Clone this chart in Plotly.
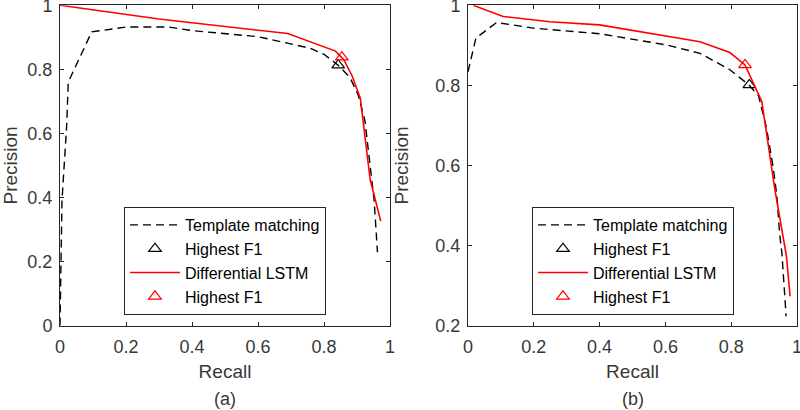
import plotly.graph_objects as go

# ---- data: panel (a) ----
tm_a_recall = [0.0, 0.006, 0.02, 0.025, 0.096, 0.2, 0.33, 0.4, 0.6, 0.687, 0.758, 0.8, 0.843, 0.879, 0.904, 0.924, 0.939, 0.952, 0.962]
tm_a_prec   = [0.0, 0.39, 0.62, 0.76, 0.917, 0.932, 0.932, 0.921, 0.902, 0.883, 0.866, 0.847, 0.813, 0.774, 0.719, 0.64, 0.516, 0.39, 0.229]
tm_a_best = ([0.843], [0.813])
ls_a_recall = [0.0, 0.3, 0.69, 0.835, 0.86, 0.885, 0.91, 0.94, 0.972]
ls_a_prec   = [1.0, 0.957, 0.912, 0.857, 0.83, 0.78, 0.71, 0.455, 0.326]
ls_a_best = ([0.854], [0.838])

# ---- data: panel (b) ----
tm_b_recall = [0.0, 0.024, 0.087, 0.198, 0.4, 0.603, 0.705, 0.796, 0.855, 0.883, 0.907, 0.927, 0.939, 0.947, 0.954, 0.96, 0.967]
tm_b_prec   = [0.834, 0.918, 0.957, 0.943, 0.929, 0.901, 0.88, 0.839, 0.80, 0.774, 0.695, 0.598, 0.523, 0.431, 0.381, 0.306, 0.223]
tm_b_best = ([0.855], [0.801])
ls_b_recall = [0.016, 0.107, 0.249, 0.4, 0.705, 0.796, 0.842, 0.877, 0.893, 0.933, 0.958, 0.968, 0.979]
ls_b_prec   = [1.0, 0.972, 0.959, 0.951, 0.909, 0.882, 0.851, 0.789, 0.76, 0.539, 0.415, 0.373, 0.273]
ls_b_best = ([0.842], [0.851])

x_ticks = [0, 0.2, 0.4, 0.6, 0.8, 1]
x_tick_labels = ["0", "0.2", "0.4", "0.6", "0.8", "1"]
ya_ticks = [0, 0.2, 0.4, 0.6, 0.8, 1]
ya_tick_labels = ["0", "0.2", "0.4", "0.6", "0.8", "1"]
yb_ticks = [0.2, 0.4, 0.6, 0.8, 1]
yb_tick_labels = ["0.2", "0.4", "0.6", "0.8", "1"]
names = ["Template matching", "Highest F1", "Differential LSTM", "Highest F1"]
panel_labels = ["(a)", "(b)"]

FONT = "Liberation Sans, Arial, sans-serif"
AX = "#262626"
TXT = "#383838"
RED = "#ff0000"

fig = go.Figure()

def add_panel(xa, ya, leg, tm_x, tm_y, tm_best, ls_x, ls_y, ls_best):
    fig.add_trace(go.Scatter(x=tm_x, y=tm_y, mode="lines", name=names[0],
                             line=dict(color="black", width=1.4, dash="8px,5px"),
                             xaxis=xa, yaxis=ya, legend=leg))
    fig.add_trace(go.Scatter(x=tm_best[0], y=tm_best[1], mode="markers", name=names[1],
                             marker=dict(symbol="triangle-up-open", size=11, color="black",
                                         line=dict(width=1.2, color="black")),
                             xaxis=xa, yaxis=ya, legend=leg))
    fig.add_trace(go.Scatter(x=ls_x, y=ls_y, mode="lines", name=names[2],
                             line=dict(color=RED, width=1.6),
                             xaxis=xa, yaxis=ya, legend=leg))
    fig.add_trace(go.Scatter(x=ls_best[0], y=ls_best[1], mode="markers", name=names[3],
                             marker=dict(symbol="triangle-up-open", size=11, color=RED,
                                         line=dict(width=1.2, color=RED)),
                             xaxis=xa, yaxis=ya, legend=leg))

add_panel("x", "y", "legend", tm_a_recall, tm_a_prec, tm_a_best, ls_a_recall, ls_a_prec, ls_a_best)
add_panel("x2", "y2", "legend2", tm_b_recall, tm_b_prec, tm_b_best, ls_b_recall, ls_b_prec, ls_b_best)

W, H = 800, 410
ydom = [(H - 325.5) / H, (H - 5.3) / H]

axis_common = dict(showline=True, linecolor=AX, linewidth=1, mirror="allticks",
                   ticks="inside", ticklen=4, tickcolor=AX, showgrid=False, zeroline=False,
                   ticklabeloverflow="allow", automargin=False,
                   tickfont=dict(family=FONT, size=18, color=TXT))
xt = dict(text="Recall", font=dict(size=19, family=FONT, color=TXT), standoff=8)
yt = dict(text="Precision", font=dict(size=19, family=FONT, color=TXT), standoff=21)

fig.update_layout(
    width=W, height=H, margin=dict(l=0, r=0, t=0, b=0, autoexpand=False),
    paper_bgcolor="white", plot_bgcolor="white",
    font=dict(family=FONT, color=AX),
    xaxis=dict(domain=[60 / W, 390 / W], range=[0, 1], tickvals=x_ticks, ticktext=x_tick_labels,
               title=xt, anchor="y", ticklabelstandoff=5, **axis_common),
    yaxis=dict(domain=ydom, range=[0, 1], tickvals=ya_ticks, ticktext=ya_tick_labels,
               title=yt, anchor="x", ticklabelstandoff=3, **axis_common),
    xaxis2=dict(domain=[468 / W, 797 / W], range=[0, 1], tickvals=x_ticks, ticktext=x_tick_labels,
                title=xt, anchor="y2", ticklabelstandoff=5, **axis_common),
    yaxis2=dict(domain=ydom, range=[0.2, 1], tickvals=yb_ticks, ticktext=yb_tick_labels,
                title=yt, anchor="x2", ticklabelstandoff=3, **axis_common),
    legend=dict(x=124 / W, y=(H - 207) / H, xanchor="left", yanchor="top",
                bordercolor=AX, borderwidth=1, bgcolor="white", itemwidth=50,
                font=dict(family=FONT, size=16, color="black"), tracegroupgap=0),
    legend2=dict(x=532 / W, y=(H - 207) / H, xanchor="left", yanchor="top",
                 bordercolor=AX, borderwidth=1, bgcolor="white", itemwidth=50,
                 font=dict(family=FONT, size=16, color="black"), tracegroupgap=0),
    showlegend=True,
)

for i, lab in enumerate(panel_labels):
    fig.add_annotation(text=lab, xref=f"x{'' if i == 0 else '2'} domain", yref="paper",
                       x=0.5, y=(H - 399) / H, xanchor="center", yanchor="middle",
                       showarrow=False, font=dict(family=FONT, size=18, color=TXT))

fig.write_html("out.html", config={"displayModeBar": False},
               post_script="document.body.style.margin='0';document.body.style.overflow='hidden';")
